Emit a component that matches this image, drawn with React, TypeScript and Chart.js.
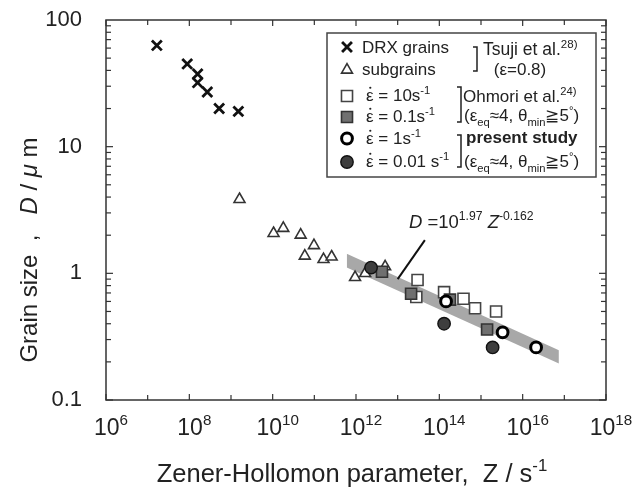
import React, { useEffect, useRef } from 'react';
import { Chart, registerables } from 'chart.js';
import { drawPoint } from 'chart.js/helpers';
Chart.register(...registerables);

// ---- data (Z in s^-1, D in µm) ----
const drxZ = [1.66e7, 8.9e7, 1.58e8, 1.58e8, 2.7e8, 5.2e8, 1.5e9];
const drxD = [63, 45, 37.5, 32, 27, 20, 19];

const subZ = [1.6e9, 1.05e10, 1.8e10, 4.7e10, 9.8e10, 5.9e10, 1.66e11, 2.6e11, 9.5e11, 1.66e12, 5.0e12];
const subD = [3.84, 2.07, 2.27, 2.01, 1.66, 1.37, 1.29, 1.35, 0.93, 1.0, 1.13];

const ohm10Z = [3.0e13, 2.8e13, 1.3e14, 3.8e14, 7.2e14, 2.3e15];
const ohm10D = [0.885, 0.65, 0.71, 0.63, 0.53, 0.5];

const ohm01Z = [4.2e12, 2.1e13, 1.8e14, 1.4e15];
const ohm01D = [1.03, 0.69, 0.62, 0.36];

const pres1Z = [1.45e14, 3.3e15, 2.1e16];
const pres1D = [0.6, 0.342, 0.26];

const pres001Z = [2.3e12, 1.3e14, 1.9e15];
const pres001D = [1.11, 0.4, 0.26];

// fitted band D = 10^1.97 Z^-0.162 (edges)
const bandZ = [6.0e11, 7.4e16];
const bandUpperD = [1.43, 0.247];
const bandLowerD = [1.11, 0.194];

const leaderZ = [4.5e13, 1.0e13];
const leaderD = [1.83, 0.9];

const xTickExps = ['6', '8', '10', '12', '14', '16', '18'];
const yTickValues = [100, 10, 1, 0.1];
const yTickLabels = ['100', '10', '1', '0.1'];

const FONT = '"Liberation Sans", Arial, Helvetica, sans-serif';

const pts = (xs: number[], ys: number[]) => xs.map((x, i) => ({ x, y: ys[i] }));

type Part = { t: string; s?: string; pos?: 'sup' | 'sub'; dot?: boolean };

function drawRich(ctx: CanvasRenderingContext2D, x: number, y: number, parts: Part[], size: number, align: 'left' | 'center' | 'right' = 'left') {
  const fontFor = (p: Part) => {
    const sz = p.pos ? size * 0.66 : size;
    const st = p.s === 'i' ? 'italic ' : p.s === 'b' ? 'bold ' : '';
    return `${st}${sz}px ${FONT}`;
  };
  let total = 0;
  for (const p of parts) {
    ctx.font = fontFor(p);
    total += ctx.measureText(p.t).width;
  }
  let cx = align === 'center' ? x - total / 2 : align === 'right' ? x - total : x;
  ctx.textAlign = 'left';
  ctx.textBaseline = 'alphabetic';
  for (const p of parts) {
    ctx.font = fontFor(p);
    const dy = p.pos === 'sup' ? -size * 0.42 : p.pos === 'sub' ? size * 0.28 : 0;
    ctx.fillText(p.t, cx, y + dy);
    const w = ctx.measureText(p.t).width;
    if (p.dot) {
      ctx.beginPath();
      ctx.arc(cx + w / 2 + 0.5, y - size * 0.78, 1.1, 0, Math.PI * 2);
      ctx.fill();
    }
    cx += w;
  }
  return total;
}

const epsRate = (val: string): Part[] => [
  { t: 'ε', dot: true },
  { t: ` = ${val}` },
  { t: '-1', pos: 'sup' },
];
const eqParts: Part[] = [
  { t: '(ε' }, { t: 'eq', pos: 'sub' }, { t: '≈4, θ' }, { t: 'min', pos: 'sub' }, { t: '≧5' }, { t: '°', pos: 'sup' }, { t: ')' },
];

const styles = {
  cross: { pointStyle: 'crossRot', radius: 7, borderWidth: 2.8, borderColor: '#111', backgroundColor: '#111' },
  tri: { pointStyle: 'triangle', radius: 6.3, borderWidth: 1.6, borderColor: '#333', backgroundColor: '#fff' },
  sqOpen: { pointStyle: 'rect', radius: 7.8, borderWidth: 1.6, borderColor: '#444', backgroundColor: '#fff' },
  sqGrey: { pointStyle: 'rect', radius: 7.8, borderWidth: 1.6, borderColor: '#333', backgroundColor: '#707070' },
  cOpen: { pointStyle: 'circle', radius: 5.4, borderWidth: 3, borderColor: '#000', backgroundColor: '#fff' },
  cDark: { pointStyle: 'circle', radius: 6.2, borderWidth: 1.4, borderColor: '#111', backgroundColor: '#3e3e3e' },
};

const decorPlugin = {
  id: 'decor',
  afterDatasetsDraw(chart: any) {
    const { ctx, chartArea: a, scales } = chart;
    const x = scales.x, y = scales.y;
    ctx.save();
    ctx.strokeStyle = '#333';
    ctx.lineWidth = 1.5;
    ctx.strokeRect(a.left, a.top, a.right - a.left, a.bottom - a.top);
    ctx.lineWidth = 1.2;
    const line = (x1: number, y1: number, x2: number, y2: number) => {
      ctx.beginPath(); ctx.moveTo(x1, y1); ctx.lineTo(x2, y2); ctx.stroke();
    };
    for (let e = 6; e <= 18; e++) {
      const px = x.getPixelForValue(Math.pow(10, e));
      const len = e % 2 === 0 ? 6 : 5;
      line(px, a.bottom, px, a.bottom - len);
      line(px, a.top, px, a.top + len);
    }
    for (let e = -1; e <= 1; e++) {
      for (let m = 1; m <= 9; m++) {
        const py = y.getPixelForValue(m * Math.pow(10, e));
        const len = m === 1 ? 7 : 5;
        line(a.left, py, a.left + len, py);
        line(a.right, py, a.right - len, py);
      }
    }
    ctx.restore();
  },
  afterDraw(chart: any) {
    const { ctx, scales } = chart;
    const x = scales.x, y = scales.y;
    ctx.save();
    ctx.fillStyle = '#222';
    // x tick labels
    xTickExps.forEach((ex) => {
      const px = x.getPixelForValue(Math.pow(10, Number(ex)));
      drawRich(ctx, px + 5, 435, [{ t: '10' }, { t: ex, pos: 'sup' }], 23, 'center');
    });
    // y tick labels
    yTickValues.forEach((v, i) => {
      const py = y.getPixelForValue(v);
      ctx.font = `22px ${FONT}`;
      ctx.textAlign = 'right';
      ctx.textBaseline = 'middle';
      ctx.fillText(yTickLabels[i], 82, py);
    });
    // axis titles
    drawRich(ctx, 352, 482, [{ t: 'Zener-Hollomon parameter,  Z / s' }, { t: '-1', pos: 'sup' }], 25.5, 'center');
    ctx.save();
    ctx.translate(37, 250);
    ctx.rotate(-Math.PI / 2);
    drawRich(ctx, 0, 0, [{ t: 'Grain size  ,   ' }, { t: 'D', s: 'i' }, { t: ' / ' }, { t: 'μ', s: 'i' }, { t: ' m' }], 24, 'center');
    ctx.restore();

    // equation annotation
    const ax = x.getPixelForValue(1.86e13), ay = y.getPixelForValue(2.28);
    drawRich(ctx, ax, ay, [{ t: 'D', s: 'i' }, { t: ' =10' }, { t: '1.97', pos: 'sup' }, { t: ' ' }, { t: 'Z', s: 'i' }, { t: '-0.162', pos: 'sup' }], 18.5);

    // legend box
    ctx.strokeStyle = '#444';
    ctx.lineWidth = 1.5;
    ctx.strokeRect(327, 33, 269, 144);
    const mx = 347;
    const mk = (st: any, yy: number) => {
      ctx.save();
      ctx.lineWidth = st.borderWidth;
      ctx.strokeStyle = st.borderColor;
      ctx.fillStyle = st.backgroundColor;
      drawPoint(ctx, { pointStyle: st.pointStyle, radius: st.radius, borderWidth: st.borderWidth, rotation: 0 } as any, mx, yy);
      ctx.restore();
    };
    mk(styles.cross, 47);
    mk(styles.tri, 70);
    mk(styles.sqOpen, 96);
    mk(styles.sqGrey, 117);
    mk(styles.cOpen, 138.5);
    mk(styles.cDark, 162);
    ctx.fillStyle = '#222';
    const LS = 17;
    drawRich(ctx, 362, 53, [{ t: 'DRX grains' }], LS);
    drawRich(ctx, 362, 75, [{ t: 'subgrains' }], LS);
    drawRich(ctx, 366, 101, epsRate('10s'), LS);
    drawRich(ctx, 366, 122, epsRate('0.1s'), LS);
    drawRich(ctx, 366, 144, epsRate('1s'), LS);
    drawRich(ctx, 366, 167, epsRate('0.01 s'), LS);
    drawRich(ctx, 483, 55, [{ t: 'Tsuji et al.' }, { t: '28)', pos: 'sup' }], 17.5);
    drawRich(ctx, 520, 75, [{ t: '(ε=0.8)' }], LS, 'center');
    drawRich(ctx, 463, 102, [{ t: 'Ohmori et al.' }, { t: '24)', pos: 'sup' }], LS);
    drawRich(ctx, 464, 121, eqParts, LS);
    drawRich(ctx, 466, 143, [{ t: 'present study', s: 'b' }], LS);
    drawRich(ctx, 464, 167, eqParts, LS);
    // brackets
    ctx.strokeStyle = '#222';
    ctx.lineWidth = 1.5;
    const br = (bx: number, y1: number, y2: number) => {
      ctx.beginPath();
      ctx.moveTo(bx - 4, y1); ctx.lineTo(bx, y1); ctx.lineTo(bx, y2); ctx.lineTo(bx - 4, y2);
      ctx.stroke();
    };
    br(477, 47, 71);
    br(461, 87, 122);
    br(461, 135, 167);
    ctx.restore();
  },
};

function ds(label: string, xs: number[], ys: number[], st: any, order: number) {
  return {
    label,
    data: pts(xs, ys),
    showLine: false,
    pointStyle: st.pointStyle,
    pointRadius: st.radius,
    pointHoverRadius: st.radius,
    pointBorderWidth: st.borderWidth,
    pointBorderColor: st.borderColor,
    pointBackgroundColor: st.backgroundColor,
    order,
  };
}

export default function App() {
  const ref = useRef<HTMLCanvasElement>(null);
  useEffect(() => {
    if (!ref.current) return;
    const chart = new Chart(ref.current, {
      type: 'scatter',
      data: {
        datasets: [
          {
            label: 'band upper', data: pts(bandZ, bandUpperD), showLine: true, pointRadius: 0, borderWidth: 0,
            borderColor: 'rgba(0,0,0,0)', backgroundColor: '#a8a8a8', fill: false, order: 20,
          } as any,
          {
            label: 'band lower', data: pts(bandZ, bandLowerD), showLine: true, pointRadius: 0, borderWidth: 0,
            borderColor: 'rgba(0,0,0,0)', backgroundColor: '#a8a8a8', fill: '-1', order: 19,
          } as any,
          {
            label: 'leader', data: pts(leaderZ, leaderD), showLine: true, pointRadius: 0, borderWidth: 2,
            borderColor: '#111', order: 18,
          } as any,
          ds('subgrains', subZ, subD, styles.tri, 8),
          ds('DRX grains', drxZ, drxD, styles.cross, 7),
          ds('10 s-1', ohm10Z, ohm10D, styles.sqOpen, 6),
          ds('0.1 s-1', ohm01Z, ohm01D, styles.sqGrey, 5),
          ds('0.01 s-1', pres001Z, pres001D, styles.cDark, 4),
          ds('1 s-1', pres1Z, pres1D, styles.cOpen, 3),
        ],
      },
      options: {
        animation: false,
        responsive: false,
        layout: { padding: { top: 20, right: 28, left: 0, bottom: 0 } },
        plugins: { legend: { display: false }, tooltip: { enabled: false }, filler: { propagate: false } },
        scales: {
          x: {
            type: 'logarithmic', min: 1e6, max: 1e18,
            ticks: { display: false }, grid: { display: false }, border: { display: false },
            afterFit: (s: any) => { s.height = 90; },
          },
          y: {
            type: 'logarithmic', min: 0.1, max: 100,
            ticks: { display: false }, grid: { display: false }, border: { display: false },
            afterFit: (s: any) => { s.width = 106; },
          },
        },
      } as any,
      plugins: [decorPlugin],
    });
    return () => chart.destroy();
  }, []);
  return (
    <div style={{ position: 'absolute', left: 0, top: 0, width: 634, height: 490, background: '#fff' }}>
      <canvas ref={ref} width={634} height={490} style={{ display: 'block' }} />
    </div>
  );
}
